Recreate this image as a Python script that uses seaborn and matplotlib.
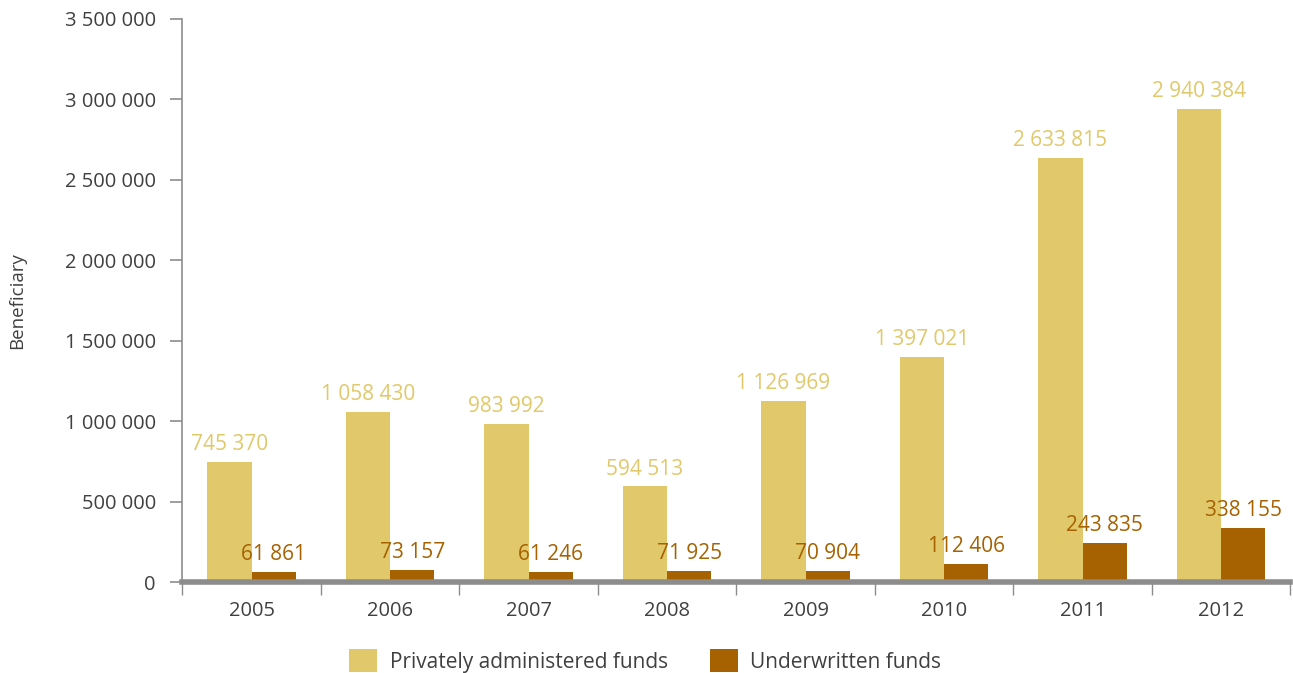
import numpy as np
import pandas as pd
import matplotlib.pyplot as plt
import seaborn as sns

years = ['2005', '2006', '2007', '2008', '2009', '2010', '2011', '2012']
private_funds = [745370, 1058430, 983992, 594513, 1126969, 1397021, 2633815, 2940384]
underwritten_funds = [61861, 73157, 61246, 71925, 70904, 112406, 243835, 338155]
series_names = ['Privately administered funds', 'Underwritten funds']

df = pd.DataFrame({
    'Year': years * 2,
    'Value': private_funds + underwritten_funds,
    'Series': [series_names[0]] * len(years) + [series_names[1]] * len(years),
})

colors = ['#E1C86A', '#A66100']
text_grey = '#404040'
axis_grey = '#8C8C8C'


def fmt(v):
    return f"{v:,}".replace(',', ' ')


sns.set_style('white')
plt.rcParams['font.family'] = ['Open Sans', 'DejaVu Sans']

fig, ax = plt.subplots(figsize=(12.93, 6.73), dpi=100)
fig.subplots_adjust(left=0.141, right=0.998, top=0.972, bottom=0.135)

sns.barplot(data=df, x='Year', y='Value', hue='Series', palette=colors,
            width=0.64, saturation=1, linewidth=0, ax=ax, legend=True)

# value labels
for container, col in zip(ax.containers, colors):
    for bar in container:
        h = bar.get_height()
        ax.annotate(fmt(int(round(h))), (bar.get_x() + bar.get_width() / 2, h),
                    xytext=(0, 5), textcoords='offset points',
                    ha='center', va='bottom', fontsize=15, color=col)

ax.set_ylim(0, 3500000)
ax.set_xlim(-0.5, len(years) - 0.5)
ax.set_yticks(np.arange(0, 3500001, 500000))
ax.set_yticklabels([fmt(int(v)) for v in ax.get_yticks()], fontsize=14.5, color=text_grey)
ax.set_xticks(range(len(years)))
ax.set_xticklabels(years, fontsize=14.5, color=text_grey)

ax.set_xlabel('')
ax.set_ylabel('Beneficiary', fontsize=13.5, color=text_grey, labelpad=28)

for s in ['top', 'right']:
    ax.spines[s].set_visible(False)
ax.spines['left'].set_color(axis_grey)
ax.spines['left'].set_linewidth(1.2)
ax.spines['bottom'].set_color(axis_grey)
ax.spines['bottom'].set_linewidth(4)

ax.tick_params(axis='y', which='major', left=True, length=9, width=1.2,
               color=axis_grey, pad=10)
ax.tick_params(axis='x', which='major', bottom=False, pad=10)
ax.set_xticks(np.arange(-0.5, len(years), 1), minor=True)
ax.tick_params(axis='x', which='minor', bottom=True, length=9, width=1,
               color=axis_grey, direction='out')

handles, labels = ax.get_legend_handles_labels()
ax.get_legend().remove()
leg = fig.legend(handles, labels, loc='center', bbox_to_anchor=(0.499, 0.018),
                 ncol=2, frameon=False, fontsize=15, handlelength=1.35,
                 handleheight=1.3, columnspacing=2.0, handletextpad=0.6)
for t in leg.get_texts():
    t.set_color(text_grey)

fig.savefig('out.png', dpi=100)
